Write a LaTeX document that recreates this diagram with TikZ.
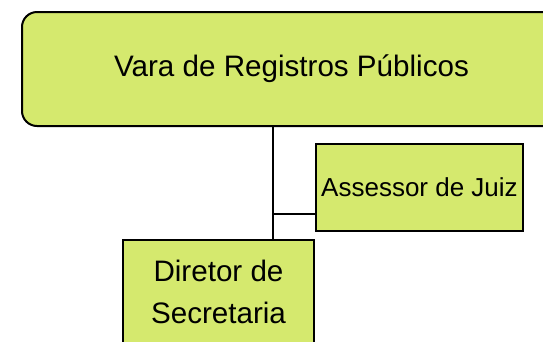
\documentclass[tikz,border=0pt]{standalone}
\usepackage{fontspec}
\setmainfont{Liberation Sans}
\definecolor{boxfill}{RGB}{213,233,110}
\begin{document}
\begin{tikzpicture}[x=1pt,y=-1pt,
  orgbox/.style={draw=black,line width=2pt,fill=boxfill,inner sep=0pt,align=center},
  link/.style={draw=black,line width=2pt}]
\useasboundingbox (0,0) rectangle (543,341);
\clip (0,0) rectangle (543,341);
\node[orgbox,rounded corners=15pt,minimum width=539pt,minimum height=114pt,
  font=\fontsize{29.6}{36}\selectfont] (top) at (291.5,69) {Vara de Registros Públicos};
\node[orgbox,minimum width=207pt,minimum height=87pt,
  font=\fontsize{26}{32}\selectfont] (ass) at (419.5,187.5) {Assessor de Juiz};
\node[orgbox,minimum width=191pt,minimum height=104pt,
  font=\fontsize{29.6}{42}\selectfont] (dir) at (218.5,292) {Diretor de\\Secretaria};
\coordinate (vx) at (273,0);
\coordinate (j) at (273,214);
\draw[link] (vx |- top.south) -- (vx |- dir.north);
\draw[link] (j) -- (j -| ass.west);
\end{tikzpicture}
\end{document}
